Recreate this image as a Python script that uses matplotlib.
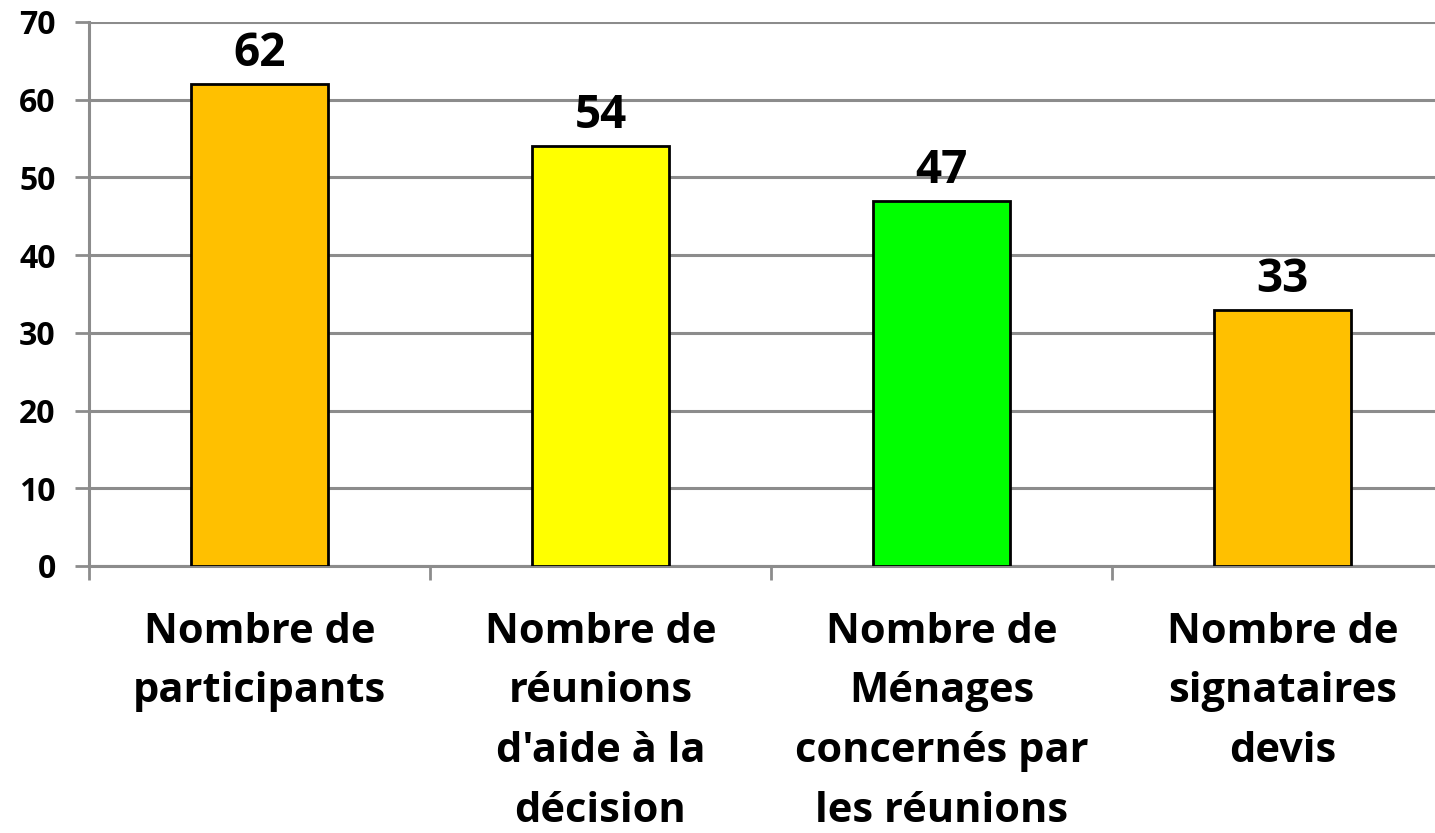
import numpy as np
import matplotlib
matplotlib.use("Agg")
import matplotlib.pyplot as plt

categories = ["Nombre de\nparticipants",
              "Nombre de\nréunions\nd'aide à la\ndécision",
              "Nombre de\nMénages\nconcernés par\nles réunions",
              "Nombre de\nsignataires\ndevis"]
values = [62, 54, 47, 33]
colors = ["#FFC000", "#FFFF00", "#00FF00", "#FFC000"]

plt.rcParams['font.family'] = ['Open Sans', 'DejaVu Sans']
plt.rcParams['font.weight'] = 'bold'

fig = plt.figure(figsize=(14.35, 8.33), dpi=100)
W, H = 1435, 833
# axes run past the right edge, as in the original crop
ax = fig.add_axes([89 / W, (H - 566) / H, 1364 / W, (566 - 22) / H])

x = np.arange(len(values))
ax.bar(x, values, width=0.4, color=colors, edgecolor="black", linewidth=2, zorder=3)

for xi, v in zip(x, values):
    ax.annotate(str(v), (xi, v), xytext=(0, 5), textcoords="offset points",
                ha="center", va="bottom", fontsize=33, fontweight="bold")

ax.set_xlim(-0.5, len(values) - 0.5)
ax.set_ylim(0, 70)
ax.set_yticks(range(0, 71, 10))
ax.yaxis.grid(True, color="#8c8c8c", linewidth=2.2, zorder=0)
ax.set_axisbelow(True)

ax.set_xticks(np.arange(-0.5, len(values), 1.0))
ax.set_xticklabels([])
ax.set_xticks(x, minor=True)
ax.set_xticklabels(categories, minor=True, fontsize=30, fontweight="bold",
                   linespacing=1.6, va="top")
ax.tick_params(axis="x", which="minor", length=0, pad=33)
ax.tick_params(axis="x", which="major", length=10, width=2, color="#8c8c8c")
ax.tick_params(axis="y", length=10, width=2, color="#8c8c8c", labelsize=23, pad=14)
for lab in ax.get_yticklabels():
    lab.set_fontweight("bold")

for s in ["top", "right"]:
    ax.spines[s].set_visible(False)
for s in ["left", "bottom"]:
    ax.spines[s].set_color("#8c8c8c")
    ax.spines[s].set_linewidth(2.2)

fig.savefig("out.png", dpi=100)
